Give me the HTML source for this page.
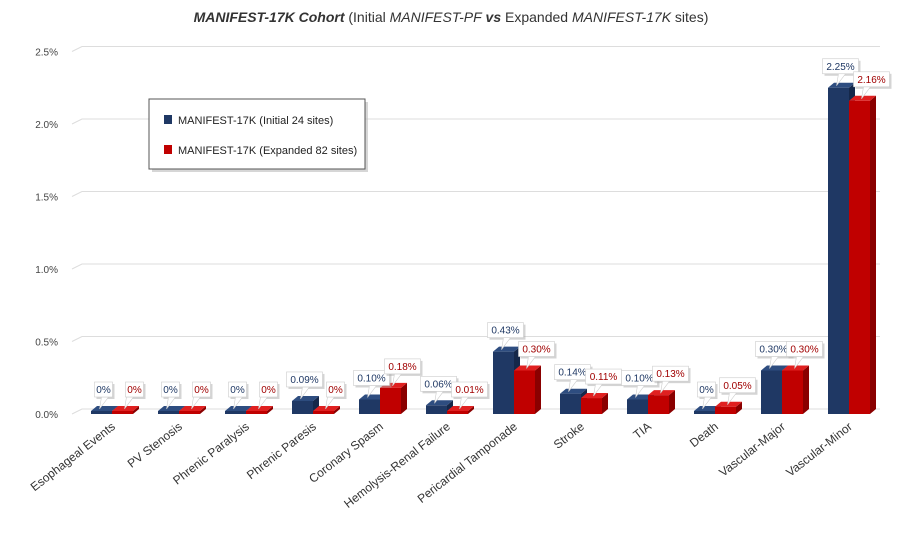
<!DOCTYPE html>
<html><head><meta charset="utf-8"><style>
html,body{margin:0;padding:0;background:#fff}
svg{display:block;font-family:"Liberation Sans",sans-serif}
</style></head><body>
<svg id="chart" width="902" height="535" viewBox="0 0 902 535">
<text x="451" y="22" text-anchor="middle" font-size="14" fill="#333"><tspan font-weight="bold" font-style="italic">MANIFEST-17K Cohort</tspan> (Initial <tspan font-style="italic">MANIFEST-PF</tspan> <tspan font-weight="bold" font-style="italic">vs</tspan> Expanded <tspan font-style="italic">MANIFEST-17K</tspan> sites)</text>
<g id="grid"></g><g id="bars"></g><g id="labels"></g><g id="xlabels"></g>
<g>
<rect x="152" y="102" width="216" height="70" fill="#bbb" opacity="0.6"/>
<rect x="149" y="99" width="216" height="70" fill="#fff" stroke="#555" stroke-width="1"/>
<g><rect x="164" y="115" width="8" height="9" fill="#1f3864"/><text x="178" y="124" font-size="11" fill="#222">MANIFEST-17K (Initial 24 sites)</text></g>
<g><rect x="164" y="145" width="8" height="9" fill="#c00000"/><text x="178" y="154" font-size="11" fill="#222">MANIFEST-17K (Expanded 82 sites)</text></g>
</g>
</svg>
<script>
const categories=["Esophageal Events","PV Stenosis","Phrenic Paralysis","Phrenic Paresis","Coronary Spasm","Hemolysis-Renal Failure","Pericardial Tamponade","Stroke","TIA","Death","Vascular-Major","Vascular-Minor"];
const initialValues=[0,0,0,0.09,0.10,0.06,0.43,0.14,0.10,0,0.30,2.25];
const expandedValues=[0,0,0,0,0.18,0.01,0.30,0.11,0.13,0.05,0.30,2.16];
const initialLabels=["0%","0%","0%","0.09%","0.10%","0.06%","0.43%","0.14%","0.10%","0%","0.30%","2.25%"];
const expandedLabels=["0%","0%","0%","0%","0.18%","0.01%","0.30%","0.11%","0.13%","0.05%","0.30%","2.16%"];
const yTicks=[0,0.5,1.0,1.5,2.0,2.5];
const yTickLabels=["0.0%","0.5%","1.0%","1.5%","2.0%","2.5%"];
const NS="http://www.w3.org/2000/svg";
const base=414, pxPer=145, x0=112, step=67, bw=21, dx=6, dy=5;
const y=v=>base-v*pxPer;
const xc=i=>x0+i*step;
function mk(tag,attrs,parent){const e=document.createElementNS(NS,tag);for(const k in attrs)e.setAttribute(k,attrs[k]);parent.appendChild(e);return e;}
const grid=document.getElementById('grid');
yTicks.forEach((t,i)=>{
  const g=mk('g',{},grid);
  
  
  mk('polyline',{points:`72,${y(t)} 82,${y(t)-dy} 880,${y(t)-dy}`,fill:'none',stroke:'#ddd','stroke-width':1},g);
  const tx=mk('text',{x:58,y:y(t)+4,'text-anchor':'end','font-size':10,fill:'#444'},g);
  tx.textContent=yTickLabels[i];
  
  
});
const bars=document.getElementById('bars'),labels=document.getElementById('labels'),xl=document.getElementById('xlabels');
function bar(x,v,front,side,top,name){
  const h=Math.max(v*pxPer,3);const t=base-h;
  const g=mk('g',{},bars);
  
  
  mk('polygon',{points:`${x+bw},${t} ${x+bw+dx},${t-dy} ${x+bw+dx},${base-dy} ${x+bw},${base}`,fill:side},g);
  mk('polygon',{points:`${x},${t} ${x+dx},${t-dy} ${x+bw+dx},${t-dy} ${x+bw},${t}`,fill:top},g);
  mk('rect',{x:x,y:t,width:bw,height:h,fill:front},g);
  return t;
}
function callout(cx,ty,text,color,name,shift){
  const w=text.length*6+6,h=15;const bx=cx-w/2+shift,by=ty-h-12;
  const g=mk('g',{},labels);
  
  
  mk('rect',{x:bx+2,y:by+2,width:w,height:h,fill:'#aaa',opacity:0.5},g);
  mk('polygon',{points:`${cx-2},${by+h} ${cx-4},${ty} ${cx+5},${by+h}`,fill:'#fff',stroke:'#ccc','stroke-width':0.6},g);
  mk('rect',{x:bx,y:by,width:w,height:h,fill:'#fff',stroke:'#ccc','stroke-width':0.6},g);
  const tx=mk('text',{x:bx+w/2,y:by+11,'text-anchor':'middle','font-size':10,fill:color},g);
  tx.textContent=text;
}
categories.forEach((c,i)=>{
  const cx=xc(i);
  const t1=bar(cx-bw,initialValues[i],'#1f3864','#15284a','#2e4d80','bar-initial');
  const t2=bar(cx,expandedValues[i],'#c00000','#8a0000','#e02020','bar-expanded');
  callout(cx-bw/2+2,t1-2,initialLabels[i],'#1f3864','value-label-initial',0);
  callout(cx+bw/2+6,t2-2,expandedLabels[i],'#a00000','value-label-expanded',6);
  const tx=mk('text',{x:cx+4,y:428,'text-anchor':'end','font-size':12,fill:'#333',transform:`rotate(-38 ${cx+4} 428)`},xl);
  tx.textContent=c;
  
  
});
</script>
</body></html>
